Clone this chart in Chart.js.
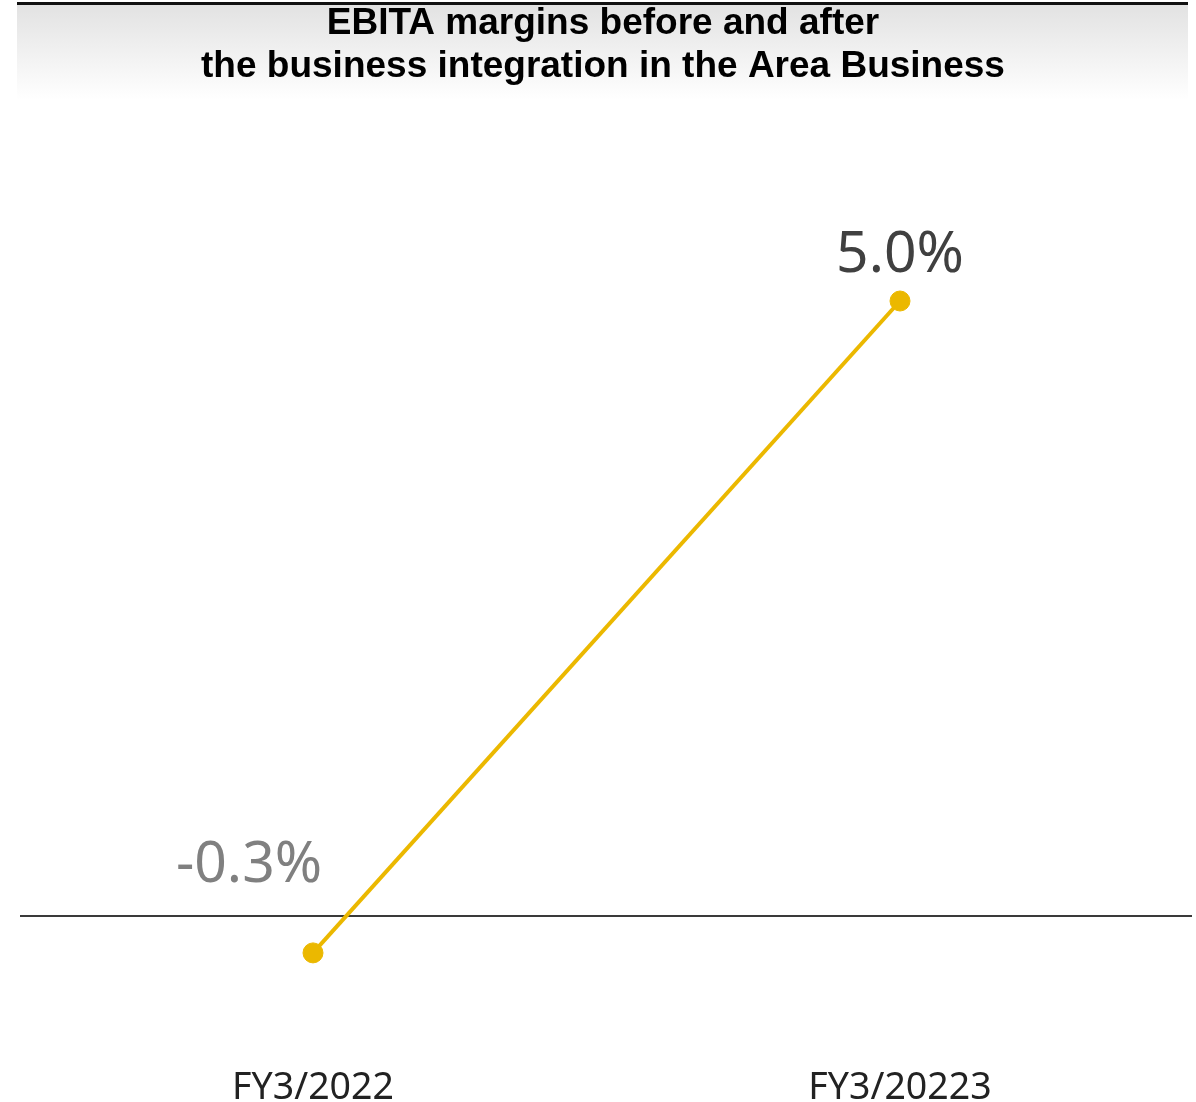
<!DOCTYPE html>
<html>
<head>
<meta charset="utf-8">
<script src="https://cdn.jsdelivr.net/npm/chart.js@4/dist/chart.umd.min.js"></script>
<style>
html,body{margin:0;padding:0;background:#fff;}
#wrap{width:1196px;height:1102px;position:relative;}
</style>
</head>
<body>
<div id="wrap"><canvas id="c" width="1196" height="1102"></canvas></div>
<script>
const titleLines = ["EBITA margins before and after", "the business integration in the Area Business"];
const categories = ["FY3/2022", "FY3/20223"];
const ebitaMargin = [-0.3, 5.0];
const valueLabels = ["-0.3%", "5.0%"];
const labelColors = ["#808080", "#404040"];

const titlePlugin = {
  id: 'titleBox',
  beforeDraw(chart) {
    const ctx = chart.ctx;
    ctx.save();
    const g = ctx.createLinearGradient(0, 4, 0, 100);
    g.addColorStop(0, '#e2e2e2');
    g.addColorStop(1, '#ffffff');
    ctx.fillStyle = g;
    ctx.fillRect(17, 4, 1171, 96);
    ctx.fillStyle = '#111';
    ctx.fillRect(17, 2, 1171, 3);
    ctx.fillStyle = '#000';
    ctx.font = 'bold 37px "Liberation Sans", Arial, sans-serif';
    ctx.textAlign = 'center';
    ctx.textBaseline = 'alphabetic';
    ctx.fillText(titleLines[0], 603, 34);
    ctx.fillText(titleLines[1], 603, 77);
    ctx.restore();
  }
};

const zeroLinePlugin = {
  id: 'zeroLine',
  beforeDatasetsDraw(chart) {
    const ctx = chart.ctx, y = Math.round(chart.scales.y.getPixelForValue(0));
    ctx.save();
    ctx.strokeStyle = '#3a3a3a';
    ctx.lineWidth = 2;
    ctx.beginPath();
    ctx.moveTo(20, y);
    ctx.lineTo(1192, y);
    ctx.stroke();
    ctx.restore();
  }
};

const labelPlugin = {
  id: 'valueLabels',
  afterDatasetsDraw(chart) {
    const ctx = chart.ctx;
    const meta = chart.getDatasetMeta(0);
    const offs = [[-64, -71], [0, -29]];
    ctx.save();
    ctx.font = '57px "Noto Sans", sans-serif';
    ctx.textAlign = 'center';
    ctx.textBaseline = 'alphabetic';
    meta.data.forEach((pt, i) => {
      ctx.fillStyle = labelColors[i];
      ctx.fillText(valueLabels[i], pt.x + offs[i][0], pt.y + offs[i][1]);
    });
    ctx.restore();
  }
};

new Chart(document.getElementById('c'), {
  type: 'line',
  data: {
    labels: categories,
    datasets: [{
      data: ebitaMargin,
      borderColor: '#EBB800',
      backgroundColor: '#EBB800',
      borderWidth: 4,
      pointRadius: 10,
      pointBorderWidth: 1,
      pointBackgroundColor: '#EBB800',
      pointBorderColor: '#EBB800',
      tension: 0,
      clip: false
    }]
  },
  options: {
    responsive: false,
    animation: false,
    layout: { autoPadding: false, padding: { top: 178, left: 19.5, right: 2.5, bottom: -36.5 } },
    plugins: { legend: { display: false }, tooltip: { enabled: false }, title: { display: false } },
    scales: {
      x: {
        offset: true,
        grid: { display: false, drawTicks: false },
        border: { display: false },
        ticks: { color: '#222', padding: 31, font: { family: '"Noto Sans", sans-serif', size: 37.5, lineHeight: 1 } },
        afterFit: (scale) => { scale.paddingLeft = 0; scale.paddingRight = 0; }
      },
      y: {
        display: false,
        min: -1,
        max: 6
      }
    }
  },
  plugins: [titlePlugin, zeroLinePlugin, labelPlugin]
});
</script>
</body>
</html>
